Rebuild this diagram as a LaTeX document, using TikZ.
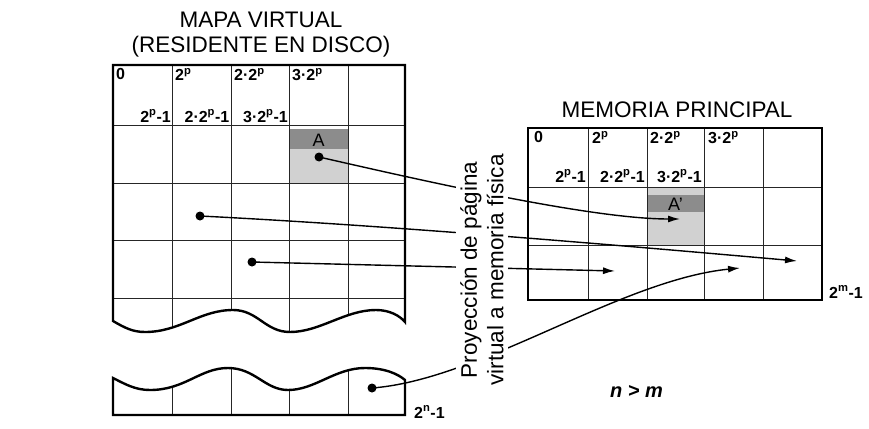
\documentclass[tikz,border=0pt]{standalone}
\usepackage{fontspec}
\setmainfont{Liberation Sans}
\usetikzlibrary{arrows.meta}

\begin{document}
\begin{tikzpicture}[x=1pt, y=-1pt, every node/.style={inner sep=0pt},
  title/.style={font=\fontsize{22.5}{25}\selectfont, align=center},
  addr/.style={font=\fontsize{16}{18}\selectfont\bfseries},
  frame/.style={line width=2.4pt},
  cell/.style={line width=0.9pt, draw=black!85},
  dot/.style={circle, fill=black, minimum size=9pt},
  proj/.style={line width=1.4pt, -{Latex[length=12pt,width=7pt]}}]
\fill[white] (0,0) rectangle (869,428);
% virtual map, upper part
\begin{scope}
\clip (113,321) .. controls (125,328) and (133,332) .. (145,332)
  .. controls (180,332) and (200,310) .. (233,310)
  .. controls (258,310) and (265,332) .. (290,332)
  .. controls (320,332) and (345,310) .. (376,310)
  .. controls (390,310) and (400,316) .. (405,322)
  -- (405,65) -- (113,65) -- cycle;
\fill[black!45] (289.5,129) rectangle (348,149);
\fill[black!18] (289.5,149) rectangle (348,183);
\draw[cell] (172.5,65) -- (172.5,340) (231,65) -- (231,340) (289.5,65) -- (289.5,340) (348,65) -- (348,340)
  (113,125) -- (405,125) (113,183) -- (405,183) (113,240) -- (405,240) (113,298) -- (405,298);
\end{scope}
\draw[frame] (113,321) .. controls (125,328) and (133,332) .. (145,332)
  .. controls (180,332) and (200,310) .. (233,310)
  .. controls (258,310) and (265,332) .. (290,332)
  .. controls (320,332) and (345,310) .. (376,310)
  .. controls (390,310) and (400,316) .. (405,322)
  -- (405,65) -- (113,65) -- cycle;
% virtual map, lower part
\begin{scope}
\clip (113,378) .. controls (125,384) and (135,390) .. (150,390)
  .. controls (185,390) and (200,368) .. (228,368)
  .. controls (255,368) and (265,390) .. (288,390)
  .. controls (315,390) and (335,368) .. (365,368)
  .. controls (385,368) and (398,374) .. (405,380)
  -- (405,415) -- (113,415) -- cycle;
\draw[cell] (172.5,360) -- (172.5,415) (231,360) -- (231,415) (289.5,360) -- (289.5,415) (348,360) -- (348,415);
\end{scope}
\draw[frame] (113,378) .. controls (125,384) and (135,390) .. (150,390)
  .. controls (185,390) and (200,368) .. (228,368)
  .. controls (255,368) and (265,390) .. (288,390)
  .. controls (315,390) and (335,368) .. (365,368)
  .. controls (385,368) and (398,374) .. (405,380)
  -- (405,415) -- (113,415) -- cycle;
% main memory
\fill[black!18] (647,187) rectangle (704,245);
\fill[black!45] (647,195) rectangle (704,212);
\draw[cell] (588,128) -- (588,300) (647,128) -- (647,300) (704,128) -- (704,300) (763,128) -- (763,300)
  (528,187) -- (822,187) (528,245) -- (822,245);
\draw[frame] (528,128) rectangle (822,300);
% titles
\node[title] (virtTitle) at (261,35) {MAPA VIRTUAL\\(RESIDENTE EN DISCO)};
\node[title] (memTitle) at (677,110) {MEMORIA PRINCIPAL};
% addresses
\node[addr, anchor=north west] (v0) at (116,68) {0};
\node[addr, anchor=north west] (v1) at (175,68) {2\textsuperscript{p}};
\node[addr, anchor=north west] (v2) at (234,68) {2·2\textsuperscript{p}};
\node[addr, anchor=north west] (v3) at (292,68) {3·2\textsuperscript{p}};
\node[addr, anchor=base east] (v1e) at (171,122) {2\textsuperscript{p}-1};
\node[addr, anchor=base east] (v2e) at (229.5,122) {2·2\textsuperscript{p}-1};
\node[addr, anchor=base east] (v3e) at (288,122) {3·2\textsuperscript{p}-1};
\node[addr, anchor=north west] (m0) at (534,131) {0};
\node[addr, anchor=north west] (m1) at (592,131) {2\textsuperscript{p}};
\node[addr, anchor=north west] (m2) at (650,131) {2·2\textsuperscript{p}};
\node[addr, anchor=north west] (m3) at (708,131) {3·2\textsuperscript{p}};
\node[addr, anchor=base east] (m1e) at (586,182) {2\textsuperscript{p}-1};
\node[addr, anchor=base east] (m2e) at (645,182) {2·2\textsuperscript{p}-1};
\node[addr, anchor=base east] (m3e) at (702,182) {3·2\textsuperscript{p}-1};
\node[addr, anchor=base west] (mEnd) at (829,298) {2\textsuperscript{m}-1};
\node[addr, anchor=base west] (vEnd) at (414,418) {2\textsuperscript{n}-1};
\node[font=\fontsize{18}{18}\selectfont] (pageA) at (318.5,140) {A};
\node[font=\fontsize{18}{18}\selectfont] (pageA2) at (675.5,204) {A'};
% pages and their frames
\node[dot] (dA) at (319,157) {};
\node[dot] (dB) at (200,216) {};
\node[dot] (dC) at (252,262) {};
\node[dot] (dD) at (372,388) {};
\coordinate (tA) at (680,219);
\coordinate (tB) at (797,261);
\coordinate (tC) at (615,271);
\coordinate (tD) at (740,268);
\draw[proj] (dA.center) .. controls (420,180) and (590,219) .. (tA);
\draw[proj] (dB.center) .. controls (400,226) and (650,248) .. (tB);
\draw[proj] (dC.center) -- (tC);
\draw[proj] (dD.center) .. controls (480,380) and (620,280) .. (tD);
\node[font=\fontsize{22.5}{26.5}\selectfont, align=center, rotate=90, fill=white, inner sep=4pt] (projLbl) at (482,270) {Proyección de página\\virtual a memoria física};
\node[font=\fontsize{20}{20}\selectfont\bfseries\itshape, anchor=base west] (nm) at (610,397) {n > m};
\end{tikzpicture}
\end{document}
